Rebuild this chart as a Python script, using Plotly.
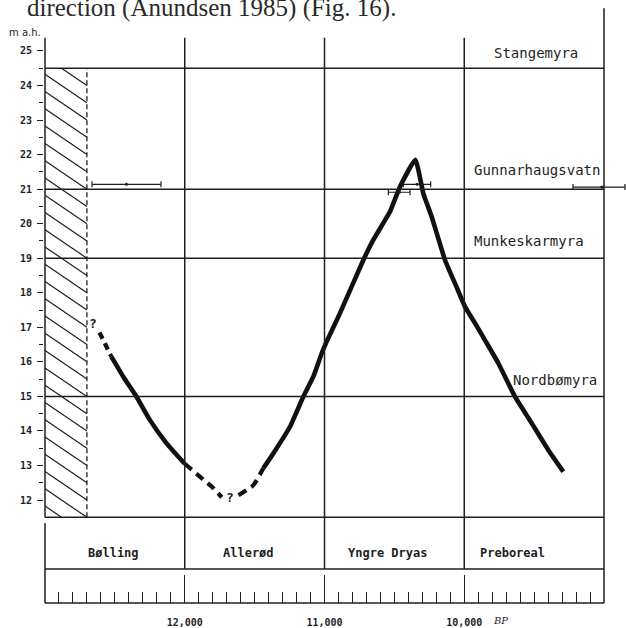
import plotly.graph_objects as go

# ---------------- data (years BP / metres above present sea level) ----------------
bolling_dash_years = [12610, 12525]
bolling_dash_m = [16.85, 16.15]
bolling_years = [12525, 12440, 12345, 12250, 12130, 12000]
bolling_m = [16.15, 15.57, 14.99, 14.32, 13.64, 13.05]
allerod_min_years = [12000, 11890, 11795, 11735]
allerod_min_m = [13.05, 12.67, 12.34, 12.08]
allerod_rise_dash_years = [11615, 11509, 11438]
allerod_rise_dash_m = [12.14, 12.43, 12.92]
main_years = [11438, 11366, 11247, 11152, 11080, 11020, 10980, 10889, 10722, 10651,
              10531, 10460, 10350, 10293, 10233, 10138, 10066, 9995, 9923, 9852,
              9756, 9637, 9517, 9399, 9291]
main_m = [12.92, 13.35, 14.12, 14.99, 15.57, 16.25, 16.63, 17.41, 18.95, 19.53,
          20.35, 21.07, 21.85, 20.88, 20.20, 18.95, 18.27, 17.60, 17.12, 16.63,
          15.96, 14.99, 14.22, 13.45, 12.82]

date_years = [12417, 10338, 10465, 9015]
date_m = [21.14, 21.14, 20.91, 21.06]
date_err_older = [247, 98, 78, 207]
date_err_younger = [247, 98, 77, 165]

level_lines_m = [24.5, 21, 19, 15, 11.5]
site_names = ["Stangemyra", "Gunnarhaugsvatn", "Munkeskarmyra", "Nordbømyra"]
site_label_years = [9487, 9476, 9537, 9353]
site_label_m = [24.94, 21.55, 19.50, 15.47]

period_names = ["Bølling", "Allerød", "Yngre Dryas", "Preboreal"]
period_label_years = [12510, 11545, 10549, 9655]
period_bounds_years = [12000, 11000, 10000]

hatch_years = [13000, 12700]
hatch_m = [11.5, 24.5]

question_years = [12654, 11676]
question_m = [17.12, 12.06]

x_tick_vals = [12000, 11000, 10000]
x_tick_text = ["12,000", "11,000", "10,000"]
x_minor_vals = [y for y in range(9100, 13000, 100) if y not in x_tick_vals]
y_tick_vals = list(range(12, 26))
y_minor_vals = [v + 0.5 for v in range(12, 25)]

# frame geometry (data units)
OLD, YOUNG = 13000, 9000
AXIS_TOP = 25.38
RIGHT_TOP = 26.24
BOX_BOTTOM = 10.0
X_AXIS_M = 9.018
PX_PER_M = 34.54
PX_PER_YR = 0.13975
ML, MB = 44, 20
PLOT_W, PLOT_H = 626 - ML, 628 - MB
Y_MIN = X_AXIS_M - (PLOT_H - 603) / PX_PER_M
Y_MAX = Y_MIN + PLOT_H / PX_PER_M
X_START = OLD + 1 / PX_PER_YR
X_END = X_START - PLOT_W / PX_PER_YR

INK = "#1e1e1e"
MONO = "DejaVu Sans Mono"

fig = go.Figure()

# hatched area (diagonal hatching clipped to the rectangle)
hx, hy = [], []
drop = 0.825
c = hatch_m[1] + drop
while c > hatch_m[0]:
    t0 = max(0.0, (c - hatch_m[1]) / drop)
    t1 = min(1.0, (c - hatch_m[0]) / drop)
    if t1 > t0:
        for t in (t0, t1):
            hx.append(hatch_years[0] + (hatch_years[1] - hatch_years[0]) * t)
            hy.append(c - drop * t)
        hx.append(None)
        hy.append(None)
    c -= 0.5
fig.add_trace(go.Scatter(x=hx, y=hy, mode="lines", line=dict(color=INK, width=1.2),
                         showlegend=False, hoverinfo="skip"))

shapes = []
def seg(x0, y0, x1, y1, width=1.5, dash=None):
    d = dict(type="line", xref="x", yref="y", x0=x0, y0=y0, x1=x1, y1=y1,
             line=dict(color=INK, width=width))
    if dash:
        d["line"]["dash"] = dash
    shapes.append(d)

for lv in level_lines_m:
    seg(OLD, lv, YOUNG, lv)
seg(OLD, BOX_BOTTOM, YOUNG, BOX_BOTTOM)
seg(OLD, X_AXIS_M, YOUNG, X_AXIS_M, width=1.6)   # bottom time axis line
for b in period_bounds_years:
    seg(b, BOX_BOTTOM, b, AXIS_TOP)
seg(OLD, hatch_m[0], OLD, AXIS_TOP)          # y axis line
seg(OLD, X_AXIS_M, OLD, 11.33)                # left edge of period box
seg(YOUNG, X_AXIS_M, YOUNG, RIGHT_TOP)        # right border
seg(hatch_years[1], hatch_m[0], hatch_years[1], hatch_m[1], width=1.3, dash="5px,3px")

# curve
curve_line = dict(color="#111", width=4.6)
fig.add_trace(go.Scatter(x=bolling_dash_years, y=bolling_dash_m, mode="lines",
                         line=dict(color="#111", width=4.2, dash="7px,5px"),
                         showlegend=False, hoverinfo="skip"))
fig.add_trace(go.Scatter(x=bolling_years, y=bolling_m, mode="lines",
                         line=dict(shape="spline", smoothing=0.5, **curve_line),
                         showlegend=False, hoverinfo="skip"))
fig.add_trace(go.Scatter(x=allerod_min_years, y=allerod_min_m, mode="lines",
                         line=dict(color="#111", width=4.2, dash="9px,6px", shape="spline", smoothing=0.5),
                         showlegend=False, hoverinfo="skip"))
fig.add_trace(go.Scatter(x=allerod_rise_dash_years, y=allerod_rise_dash_m, mode="lines",
                         line=dict(color="#111", width=4.2, dash="9px,6px", shape="spline", smoothing=0.5),
                         showlegend=False, hoverinfo="skip"))
fig.add_trace(go.Scatter(x=main_years, y=main_m, mode="lines",
                         line=dict(shape="spline", smoothing=0.4, **curve_line),
                         showlegend=False, hoverinfo="skip"))

# dated levels with age ranges
fig.add_trace(go.Scatter(
    x=date_years, y=date_m, mode="markers",
    marker=dict(color=INK, size=3),
    error_x=dict(type="data", symmetric=False, array=date_err_older, arrayminus=date_err_younger,
                 color=INK, thickness=1.2, width=3),
    showlegend=False, hoverinfo="skip"))

annotations = []
for name, yr, m in zip(site_names, site_label_years, site_label_m):
    annotations.append(dict(x=yr, y=m, xref="x", yref="y", text=name, showarrow=False,
                            font=dict(family=MONO, size=14, color=INK)))
for name, yr in zip(period_names, period_label_years):
    annotations.append(dict(x=yr, y=10.47, xref="x", yref="y", text=name, showarrow=False,
                            font=dict(family=MONO, size=12, color=INK, weight="bold")))
for yr, m in zip(question_years, question_m):
    annotations.append(dict(x=yr, y=m, xref="x", yref="y", text="?", showarrow=False,
                            font=dict(family=MONO, size=13, color=INK, weight="bold")))

def px_to_paper_x(px):
    return (px - ML) / PLOT_W
def px_to_paper_y(py):
    return (PLOT_H - py) / PLOT_H

annotations.append(dict(x=9744, y=px_to_paper_y(613), xref="x", yref="paper", yanchor="top",
                        text="<i>BP</i>", showarrow=False,
                        font=dict(family="DejaVu Serif", size=10, color=INK)))
annotations.append(dict(x=px_to_paper_x(7), y=px_to_paper_y(33), xref="paper", yref="paper",
                        xanchor="left", yanchor="middle", text="m a.h.", showarrow=False,
                        font=dict(family="DejaVu Sans", size=10, color=INK)))
annotations.append(dict(x=px_to_paper_x(25), y=px_to_paper_y(24), xref="paper", yref="paper",
                        xanchor="left", yanchor="bottom",
                        text="direction (Anundsen 1985) (Fig. 16).",
                        showarrow=False, font=dict(family="Liberation Serif", size=25, color="#2a2a2a")))

fig.update_layout(
    width=626, height=628, template="none",
    margin=dict(l=ML, r=0, t=0, b=MB, pad=0),
    paper_bgcolor="white", plot_bgcolor="white",
    showlegend=False,
    shapes=shapes, annotations=annotations,
    font=dict(family=MONO, color=INK),
    xaxis=dict(range=[X_START, X_END], autorange=False, showgrid=False, zeroline=False,
               showline=False, anchor="free", position=(PLOT_H - 603) / PLOT_H,
               tickmode="array", tickvals=x_tick_vals, ticktext=x_tick_text,
               ticks="inside", ticklen=28, tickwidth=1.3, tickcolor=INK,
               minor=dict(tickmode="array", tickvals=x_minor_vals, ticks="inside",
                          ticklen=11, tickwidth=1.2, tickcolor=INK, showgrid=False),
               tickfont=dict(family=MONO, size=10, color=INK, weight="bold"),
               ticklabelstandoff=12, automargin=False, fixedrange=True),
    yaxis=dict(range=[Y_MIN, Y_MAX], autorange=False, showgrid=False, zeroline=False,
               showline=False, tickmode="array", tickvals=y_tick_vals,
               ticks="outside", ticklen=6, tickwidth=1.3, tickcolor=INK,
               minor=dict(tickmode="array", tickvals=y_minor_vals, ticks="outside",
                          ticklen=4, tickwidth=1.1, tickcolor=INK, showgrid=False),
               tickfont=dict(family=MONO, size=10, color=INK, weight="bold"),
               ticklabelstandoff=3, automargin=False, fixedrange=True),
)

fig.write_html("out.html")
